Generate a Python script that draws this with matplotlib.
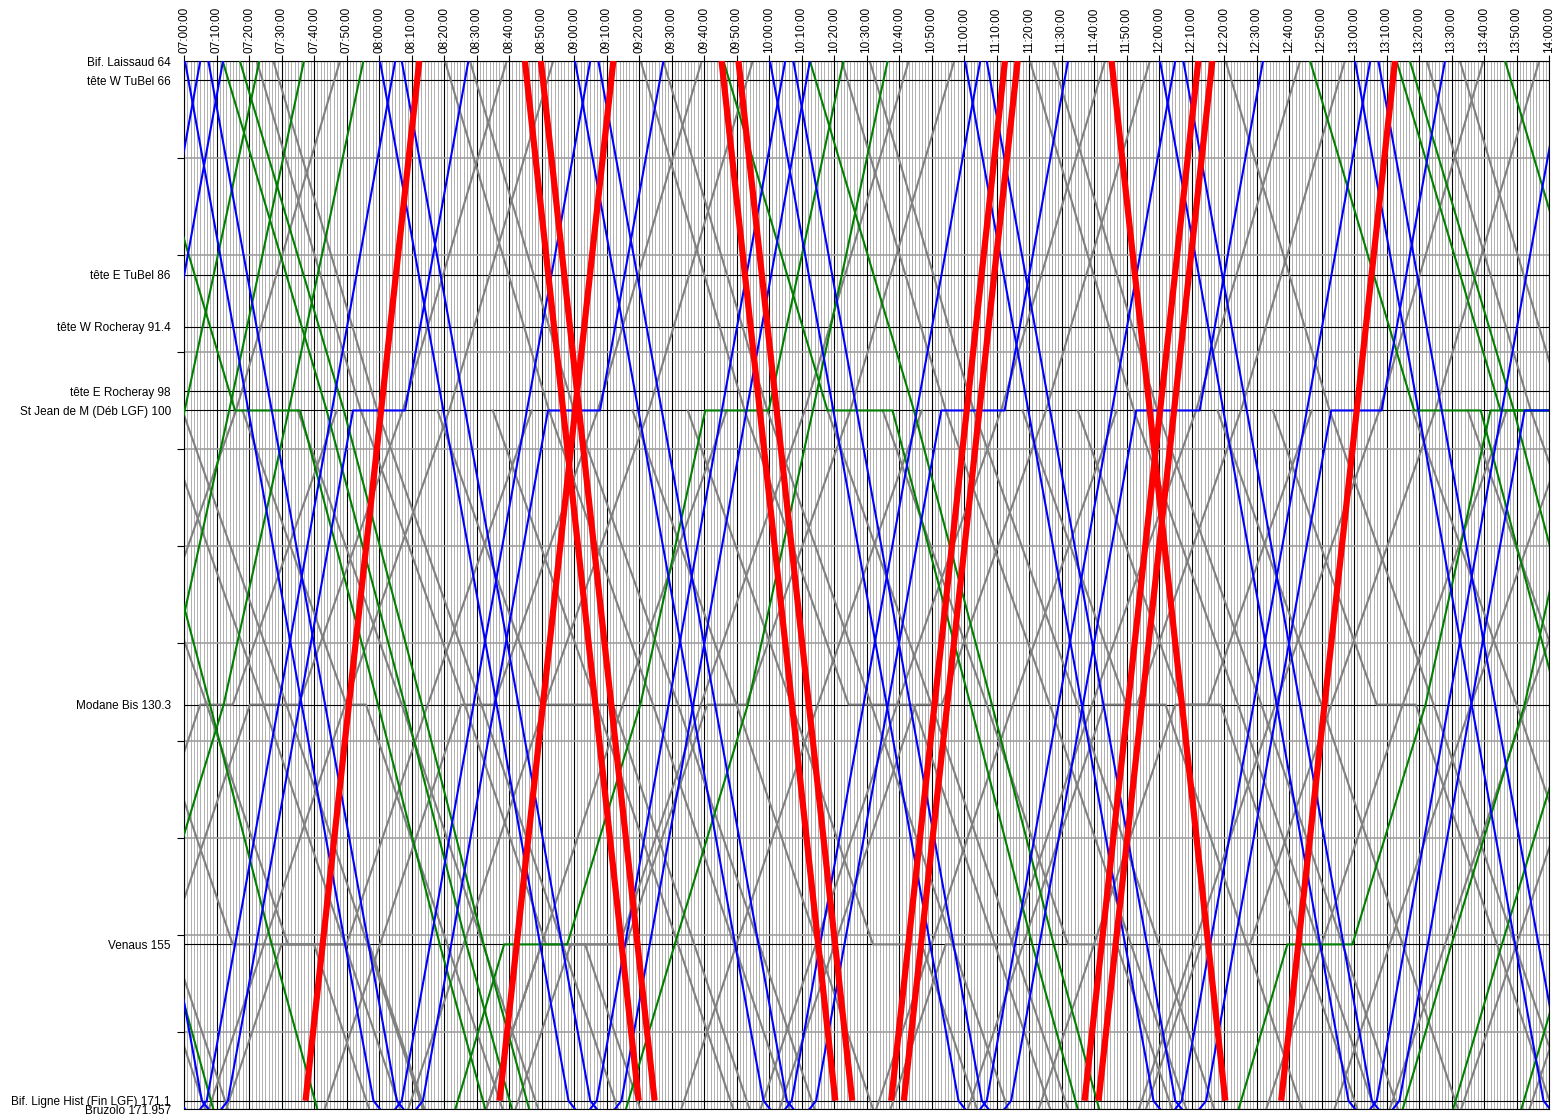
import matplotlib
matplotlib.use('Agg')
import matplotlib.pyplot as plt

plt.rcParams['font.family'] = ['Liberation Sans', 'DejaVu Sans']

# stations (km) and labels
station_km = [64, 66, 86, 91.4, 98, 100, 130.3, 155, 171.1, 171.957]
station_lbl = ['Bif. Laissaud 64', 'tête W TuBel 66', 'tête E TuBel 86', 'tête W Rocheray 91.4',
               'tête E Rocheray 98', 'St Jean de M (Déb LGF) 100', 'Modane Bis 130.3',
               'Venaus 155', 'Bif. Ligne Hist (Fin LGF) 171.1', 'Bruzolo 171.957']
km_grid = [74, 84, 94, 104, 114, 124, 134, 144, 154, 164]

# running times (minutes) between points, going down from km 64
red_pts = [64, 171.1]
red_run = [35]
blue_pts = [64, 100, 171.1, 171.957]
blue_run = [19.5, 38.5, 2]
green_pts = [64, 100, 130.3, 155, 171.957]
green_run_down = [32, 24, 19, 14]
green_run_up = [23, 20, 22.5, 15]
gray_pts = [64, 100, 130.3, 155, 171.957]
gray_run = [32, 32, 25, 17]

# trains: time at km 64 (departure for down, arrival for up)
red_down = ['08:44.9', '08:49.8', '09:45.4', '09:50.6', '11:45.4']
red_up = ['08:12.4', '09:12.1', '11:12.6', '11:16.5', '12:12.1', '12:16.4', '13:12.6']

blue_down = ['06:00.3', '06:07.5', '07:00.3', '07:07.5', '08:00.3', '08:07.0', '09:00.3', '09:07.5',
             '10:00.3', '10:07.5', '11:00.3', '11:07.0', '12:00.3', '12:07.5', '13:00.3', '13:07.5']
blue_up = ['07:05', '07:12', '08:05', '08:27.5', '09:05', '09:27.5', '10:05', '10:12.6',
           '11:05', '11:32', '12:05', '12:32', '13:05', '13:28', '14:05', '14:28']
blue_up_stop100 = [0, 0, 0, 16, 0, 16, 0, 0, 0, 19.5, 0, 19.5, 0, 15.5, 0, 16]

green_down = ['05:40', '06:12', '06:43.7', '07:11.9', '07:17.2', '09:46', '10:12.6',
              '12:46.5', '13:13.1', '13:17.2', '13:46.5']
green_down_stop100 = [0, 0, 20, 0, 0, 20, 0, 20.5, 20, 0, 0]
green_up = ['06:50', '07:23.2', '07:36.9', '07:55.2', '10:22.9', '10:36.5', '14:25', '14:35.5',
            '14:51', '15:24.3']
green_up_stop155 = [0, 0, 0, 0, 19.4, 0, 20, 0, 0, 12.3]
green_up_stop100 = [0, 0, 0, 0, 19.5, 0, 20, 0, 0, 0]

# freight running the whole section (time at km 64)
gray_down = ['05:20.5', '05:27.5', '06:20.5', '06:27.5', '07:22.4', '07:27.5', '08:20.3', '08:28',
             '09:20.5', '09:27.5', '10:22.4', '10:31', '11:20.3', '11:27.5', '12:20.5', '13:22.4',
             '13:32.6']
gray_down_stop130 = [0, 0, 0, 0, 0, 0, 0, 0, 20, 0, 0, 0, 0, 0, 0, 0, 0]
gray_down_stop155 = [0, 0, 0, 0, 12, 0, 0, 0, 0, 0, 0, 0, 0, 0, 0, 0, 0]
gray_up = ['07:48', '08:39.3', '08:53.6', '09:39.3', '09:55', '10:43', '10:57', '11:43.4',
           '11:57.2', '12:43.4', '12:57.2', '13:39.8', '13:57', '14:40', '14:57', '15:40', '15:57']
gray_up_stop130 = [0, 15, 0, 10, 0, 0, 12, 0, 8, 0, 10, 0, 0, 0, 0, 0, 0]
gray_up_stop155 = [20, 0, 0, 0, 0, 15, 26, 0, 0, 20, 0, 0, 15, 0, 0, 0, 0]

# freight joining / leaving at St Jean de M (time at km 100)
gray_down_sj = ['05:18', '05:35', '06:18', '06:35', '07:18', '07:35', '08:18', '08:35', '09:18',
                '09:35', '10:18', '10:35', '11:18', '11:35', '12:18', '12:35', '13:18', '13:35']
gray_down_sj_stop130 = [0, 0, 0, 0, 6, 0, 22, 0, 0, 0, 0, 0, 12, 12, 0, 12, 0, 0]
gray_down_sj_stop155 = [0, 0, 25, 25, 0, 0, 0, 0, 0, 15, 0, 15, 0, 0, 0, 0, 0, 0]
gray_up_sj = ['06:47', '07:47', '08:47', '09:47', '10:47', '11:47', '12:47', '13:47', '14:47']
gray_up_sj_stop130 = [0, 10, 0, 0, 0, 0, 10, 0, 0]
gray_up_sj_stop155 = [0, 0, 20, 0, 0, 0, 0, 0, 0]


def hm(s):
    h, m = s.split(':')
    return int(h) * 60 + float(m)


def down_path(t, pts, run, stops, first=0):
    # starts at pts[first] at time t and runs down the line
    ts, ks = [t], [pts[first]]
    for k, r in zip(pts[first + 1:], run[first:]):
        t += r
        ts.append(t)
        ks.append(k)
        if stops.get(k, 0):
            t += stops[k]
            ts.append(t)
            ks.append(k)
    return ts, ks


def up_path(t, pts, run, stops, first=0):
    # arrives at pts[first] at time t, built backwards in time
    ts, ks = [t], [pts[first]]
    for k, r in zip(pts[first + 1:], run[first:]):
        t -= r
        ts.append(t)
        ks.append(k)
        if stops.get(k, 0):
            t -= stops[k]
            ts.append(t)
            ks.append(k)
    return ts, ks


fig = plt.figure(figsize=(15.61, 11.19), dpi=100)
ax = fig.add_axes([184 / 1561, 1 - 1109 / 1119, (1549 - 184) / 1561, (1109 - 61) / 1119])

t0, t1 = hm('07:00'), hm('14:00')

# background grid
ax.vlines([m for m in range(int(t0), int(t1) + 1) if m % 10], 64, 171.957,
          colors='#b0b0b0', lw=0.7, zorder=1)
ax.vlines([m for m in range(int(t0), int(t1) + 1, 10)], 64, 171.957,
          colors='black', lw=0.8, zorder=1)
ax.hlines(km_grid, t0, t1, colors='#a0a0a0', lw=1.2, zorder=1)
ax.hlines(station_km, t0, t1, colors='black', lw=0.8, zorder=1)

gray = '#808080'
for i, s in enumerate(gray_down):
    ts, ks = down_path(hm(s), gray_pts, gray_run,
                       {130.3: gray_down_stop130[i], 155: gray_down_stop155[i]})
    ax.plot(ts, ks, color=gray, lw=1.5, zorder=2)
for i, s in enumerate(gray_up):
    ts, ks = up_path(hm(s), gray_pts, gray_run,
                     {130.3: gray_up_stop130[i], 155: gray_up_stop155[i]})
    ax.plot(ts, ks, color=gray, lw=1.5, zorder=2)
for i, s in enumerate(gray_down_sj):
    ts, ks = down_path(hm(s), gray_pts, gray_run,
                       {130.3: gray_down_sj_stop130[i], 155: gray_down_sj_stop155[i]}, first=1)
    ax.plot(ts, ks, color=gray, lw=1.5, zorder=2)
for i, s in enumerate(gray_up_sj):
    ts, ks = up_path(hm(s), gray_pts, gray_run,
                     {130.3: gray_up_sj_stop130[i], 155: gray_up_sj_stop155[i]}, first=1)
    ax.plot(ts, ks, color=gray, lw=1.5, zorder=2)

for i, s in enumerate(green_down):
    ts, ks = down_path(hm(s), green_pts, green_run_down, {100: green_down_stop100[i]})
    ax.plot(ts, ks, color='#008000', lw=1.5, zorder=3)
for i, s in enumerate(green_up):
    ts, ks = up_path(hm(s), green_pts, green_run_up,
                     {100: green_up_stop100[i], 155: green_up_stop155[i]})
    ax.plot(ts, ks, color='#008000', lw=1.5, zorder=3)

for s in blue_down:
    ts, ks = down_path(hm(s), blue_pts, blue_run, {})
    ax.plot(ts, ks, color='#0000ff', lw=1.5, zorder=4)
for i, s in enumerate(blue_up):
    ts, ks = up_path(hm(s), blue_pts, blue_run, {100: blue_up_stop100[i]})
    ax.plot(ts, ks, color='#0000ff', lw=1.5, zorder=4)

for s in red_down:
    ts, ks = down_path(hm(s), red_pts, red_run, {})
    ax.plot(ts, ks, color='#ff0000', lw=4.5, zorder=5, solid_capstyle='butt')
for s in red_up:
    ts, ks = up_path(hm(s), red_pts, red_run, {})
    ax.plot(ts, ks, color='#ff0000', lw=4.5, zorder=5, solid_capstyle='butt')

ax.set_xlim(t0, t1)
ax.set_ylim(171.957, 64)

xt = list(range(int(t0), int(t1) + 1, 10))
ax.set_xticks(xt)
ax.set_xticklabels(['%02d:%02d:00' % (m // 60, m % 60) for m in xt], rotation=90, fontsize=8.5)
ax.xaxis.tick_top()
ax.tick_params(axis='x', direction='out', length=4, width=0.8, pad=2)

ax.set_yticks(station_km)
ax.set_yticklabels(station_lbl, fontsize=8.5)
ax.set_yticks(km_grid, minor=True)
ax.tick_params(axis='y', which='major', length=0, pad=9.5)
ax.tick_params(axis='y', which='minor', length=5, width=0.8)

for sp in ax.spines.values():
    sp.set_linewidth(0.8)

plt.savefig('out.png', dpi=100)
